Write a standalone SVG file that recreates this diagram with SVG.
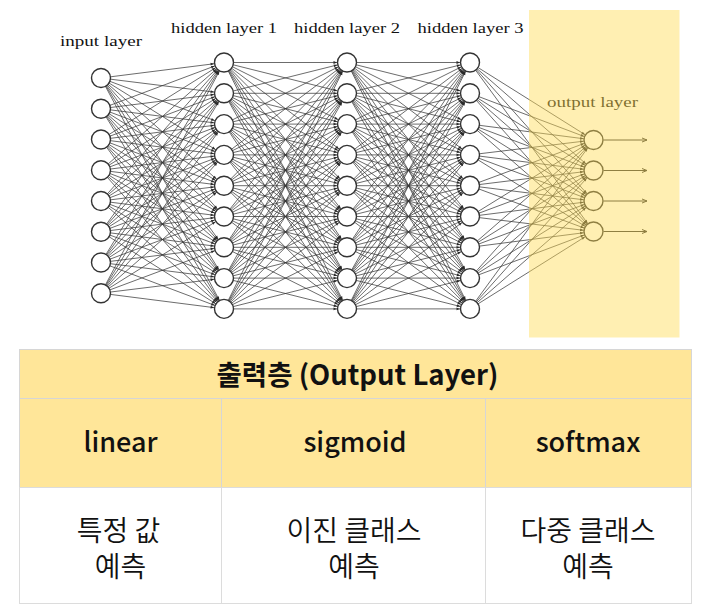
<svg xmlns="http://www.w3.org/2000/svg" width="709" height="615" viewBox="0 0 709 615">
<style>
.c{stroke:#333;stroke-opacity:.72;stroke-width:1;fill:none;marker-end:url(#ah)}
.o{stroke:#333;stroke-width:1;fill:none;marker-end:url(#ah2)}
.n{fill:#fff;stroke:#333;stroke-width:1.4}
.lbl{font-family:"Liberation Serif","DejaVu Serif",serif;font-size:14.5px;fill:#111}
.th{font-family:"Noto Sans CJK KR","Noto Sans",sans-serif;fill:#111;text-anchor:middle}
.cell{fill:#ffe699;stroke:#d6d6d6;stroke-width:1}
.wcell{fill:#fff;stroke:#dcdcdc;stroke-width:1}
</style>
<defs>
<marker id="ah" markerUnits="userSpaceOnUse" viewBox="0 0 20 6" markerWidth="20" markerHeight="6" refX="20" refY="3" orient="auto"><path d="M6.5,1.6L10,3L6.5,4.4Z" fill="#2a2a2a"/></marker>
<marker id="ah2" markerUnits="userSpaceOnUse" viewBox="0 0 8 6" markerWidth="8" markerHeight="6" refX="7" refY="3" orient="auto"><path d="M2,1L7,3L2,5" fill="none" stroke="#333" stroke-width="1"/></marker>
</defs>
<rect width="709" height="615" fill="#fff"/>
<g id="connectors">
<path class="c" d="M101 78L224 62.5"/><path class="c" d="M101 78L224 93.3"/><path class="c" d="M101 78L224 124.1"/><path class="c" d="M101 78L224 154.9"/><path class="c" d="M101 78L224 185.7"/><path class="c" d="M101 78L224 216.5"/><path class="c" d="M101 78L224 247.3"/><path class="c" d="M101 78L224 278.1"/><path class="c" d="M101 78L224 308.9"/>
<path class="c" d="M101 108.7L224 62.5"/><path class="c" d="M101 108.7L224 93.3"/><path class="c" d="M101 108.7L224 124.1"/><path class="c" d="M101 108.7L224 154.9"/><path class="c" d="M101 108.7L224 185.7"/><path class="c" d="M101 108.7L224 216.5"/><path class="c" d="M101 108.7L224 247.3"/><path class="c" d="M101 108.7L224 278.1"/><path class="c" d="M101 108.7L224 308.9"/>
<path class="c" d="M101 139.5L224 62.5"/><path class="c" d="M101 139.5L224 93.3"/><path class="c" d="M101 139.5L224 124.1"/><path class="c" d="M101 139.5L224 154.9"/><path class="c" d="M101 139.5L224 185.7"/><path class="c" d="M101 139.5L224 216.5"/><path class="c" d="M101 139.5L224 247.3"/><path class="c" d="M101 139.5L224 278.1"/><path class="c" d="M101 139.5L224 308.9"/>
<path class="c" d="M101 170.2L224 62.5"/><path class="c" d="M101 170.2L224 93.3"/><path class="c" d="M101 170.2L224 124.1"/><path class="c" d="M101 170.2L224 154.9"/><path class="c" d="M101 170.2L224 185.7"/><path class="c" d="M101 170.2L224 216.5"/><path class="c" d="M101 170.2L224 247.3"/><path class="c" d="M101 170.2L224 278.1"/><path class="c" d="M101 170.2L224 308.9"/>
<path class="c" d="M101 201L224 62.5"/><path class="c" d="M101 201L224 93.3"/><path class="c" d="M101 201L224 124.1"/><path class="c" d="M101 201L224 154.9"/><path class="c" d="M101 201L224 185.7"/><path class="c" d="M101 201L224 216.5"/><path class="c" d="M101 201L224 247.3"/><path class="c" d="M101 201L224 278.1"/><path class="c" d="M101 201L224 308.9"/>
<path class="c" d="M101 231.7L224 62.5"/><path class="c" d="M101 231.7L224 93.3"/><path class="c" d="M101 231.7L224 124.1"/><path class="c" d="M101 231.7L224 154.9"/><path class="c" d="M101 231.7L224 185.7"/><path class="c" d="M101 231.7L224 216.5"/><path class="c" d="M101 231.7L224 247.3"/><path class="c" d="M101 231.7L224 278.1"/><path class="c" d="M101 231.7L224 308.9"/>
<path class="c" d="M101 262.5L224 62.5"/><path class="c" d="M101 262.5L224 93.3"/><path class="c" d="M101 262.5L224 124.1"/><path class="c" d="M101 262.5L224 154.9"/><path class="c" d="M101 262.5L224 185.7"/><path class="c" d="M101 262.5L224 216.5"/><path class="c" d="M101 262.5L224 247.3"/><path class="c" d="M101 262.5L224 278.1"/><path class="c" d="M101 262.5L224 308.9"/>
<path class="c" d="M101 293.2L224 62.5"/><path class="c" d="M101 293.2L224 93.3"/><path class="c" d="M101 293.2L224 124.1"/><path class="c" d="M101 293.2L224 154.9"/><path class="c" d="M101 293.2L224 185.7"/><path class="c" d="M101 293.2L224 216.5"/><path class="c" d="M101 293.2L224 247.3"/><path class="c" d="M101 293.2L224 278.1"/><path class="c" d="M101 293.2L224 308.9"/>

<path class="c" d="M224 62.5L347 62.5"/><path class="c" d="M224 62.5L347 93.3"/><path class="c" d="M224 62.5L347 124.1"/><path class="c" d="M224 62.5L347 154.9"/><path class="c" d="M224 62.5L347 185.7"/><path class="c" d="M224 62.5L347 216.5"/><path class="c" d="M224 62.5L347 247.3"/><path class="c" d="M224 62.5L347 278.1"/><path class="c" d="M224 62.5L347 308.9"/>
<path class="c" d="M224 93.3L347 62.5"/><path class="c" d="M224 93.3L347 93.3"/><path class="c" d="M224 93.3L347 124.1"/><path class="c" d="M224 93.3L347 154.9"/><path class="c" d="M224 93.3L347 185.7"/><path class="c" d="M224 93.3L347 216.5"/><path class="c" d="M224 93.3L347 247.3"/><path class="c" d="M224 93.3L347 278.1"/><path class="c" d="M224 93.3L347 308.9"/>
<path class="c" d="M224 124.1L347 62.5"/><path class="c" d="M224 124.1L347 93.3"/><path class="c" d="M224 124.1L347 124.1"/><path class="c" d="M224 124.1L347 154.9"/><path class="c" d="M224 124.1L347 185.7"/><path class="c" d="M224 124.1L347 216.5"/><path class="c" d="M224 124.1L347 247.3"/><path class="c" d="M224 124.1L347 278.1"/><path class="c" d="M224 124.1L347 308.9"/>
<path class="c" d="M224 154.9L347 62.5"/><path class="c" d="M224 154.9L347 93.3"/><path class="c" d="M224 154.9L347 124.1"/><path class="c" d="M224 154.9L347 154.9"/><path class="c" d="M224 154.9L347 185.7"/><path class="c" d="M224 154.9L347 216.5"/><path class="c" d="M224 154.9L347 247.3"/><path class="c" d="M224 154.9L347 278.1"/><path class="c" d="M224 154.9L347 308.9"/>
<path class="c" d="M224 185.7L347 62.5"/><path class="c" d="M224 185.7L347 93.3"/><path class="c" d="M224 185.7L347 124.1"/><path class="c" d="M224 185.7L347 154.9"/><path class="c" d="M224 185.7L347 185.7"/><path class="c" d="M224 185.7L347 216.5"/><path class="c" d="M224 185.7L347 247.3"/><path class="c" d="M224 185.7L347 278.1"/><path class="c" d="M224 185.7L347 308.9"/>
<path class="c" d="M224 216.5L347 62.5"/><path class="c" d="M224 216.5L347 93.3"/><path class="c" d="M224 216.5L347 124.1"/><path class="c" d="M224 216.5L347 154.9"/><path class="c" d="M224 216.5L347 185.7"/><path class="c" d="M224 216.5L347 216.5"/><path class="c" d="M224 216.5L347 247.3"/><path class="c" d="M224 216.5L347 278.1"/><path class="c" d="M224 216.5L347 308.9"/>
<path class="c" d="M224 247.3L347 62.5"/><path class="c" d="M224 247.3L347 93.3"/><path class="c" d="M224 247.3L347 124.1"/><path class="c" d="M224 247.3L347 154.9"/><path class="c" d="M224 247.3L347 185.7"/><path class="c" d="M224 247.3L347 216.5"/><path class="c" d="M224 247.3L347 247.3"/><path class="c" d="M224 247.3L347 278.1"/><path class="c" d="M224 247.3L347 308.9"/>
<path class="c" d="M224 278.1L347 62.5"/><path class="c" d="M224 278.1L347 93.3"/><path class="c" d="M224 278.1L347 124.1"/><path class="c" d="M224 278.1L347 154.9"/><path class="c" d="M224 278.1L347 185.7"/><path class="c" d="M224 278.1L347 216.5"/><path class="c" d="M224 278.1L347 247.3"/><path class="c" d="M224 278.1L347 278.1"/><path class="c" d="M224 278.1L347 308.9"/>
<path class="c" d="M224 308.9L347 62.5"/><path class="c" d="M224 308.9L347 93.3"/><path class="c" d="M224 308.9L347 124.1"/><path class="c" d="M224 308.9L347 154.9"/><path class="c" d="M224 308.9L347 185.7"/><path class="c" d="M224 308.9L347 216.5"/><path class="c" d="M224 308.9L347 247.3"/><path class="c" d="M224 308.9L347 278.1"/><path class="c" d="M224 308.9L347 308.9"/>

<path class="c" d="M347 62.5L470 62.5"/><path class="c" d="M347 62.5L470 93.3"/><path class="c" d="M347 62.5L470 124.1"/><path class="c" d="M347 62.5L470 154.9"/><path class="c" d="M347 62.5L470 185.7"/><path class="c" d="M347 62.5L470 216.5"/><path class="c" d="M347 62.5L470 247.3"/><path class="c" d="M347 62.5L470 278.1"/><path class="c" d="M347 62.5L470 308.9"/>
<path class="c" d="M347 93.3L470 62.5"/><path class="c" d="M347 93.3L470 93.3"/><path class="c" d="M347 93.3L470 124.1"/><path class="c" d="M347 93.3L470 154.9"/><path class="c" d="M347 93.3L470 185.7"/><path class="c" d="M347 93.3L470 216.5"/><path class="c" d="M347 93.3L470 247.3"/><path class="c" d="M347 93.3L470 278.1"/><path class="c" d="M347 93.3L470 308.9"/>
<path class="c" d="M347 124.1L470 62.5"/><path class="c" d="M347 124.1L470 93.3"/><path class="c" d="M347 124.1L470 124.1"/><path class="c" d="M347 124.1L470 154.9"/><path class="c" d="M347 124.1L470 185.7"/><path class="c" d="M347 124.1L470 216.5"/><path class="c" d="M347 124.1L470 247.3"/><path class="c" d="M347 124.1L470 278.1"/><path class="c" d="M347 124.1L470 308.9"/>
<path class="c" d="M347 154.9L470 62.5"/><path class="c" d="M347 154.9L470 93.3"/><path class="c" d="M347 154.9L470 124.1"/><path class="c" d="M347 154.9L470 154.9"/><path class="c" d="M347 154.9L470 185.7"/><path class="c" d="M347 154.9L470 216.5"/><path class="c" d="M347 154.9L470 247.3"/><path class="c" d="M347 154.9L470 278.1"/><path class="c" d="M347 154.9L470 308.9"/>
<path class="c" d="M347 185.7L470 62.5"/><path class="c" d="M347 185.7L470 93.3"/><path class="c" d="M347 185.7L470 124.1"/><path class="c" d="M347 185.7L470 154.9"/><path class="c" d="M347 185.7L470 185.7"/><path class="c" d="M347 185.7L470 216.5"/><path class="c" d="M347 185.7L470 247.3"/><path class="c" d="M347 185.7L470 278.1"/><path class="c" d="M347 185.7L470 308.9"/>
<path class="c" d="M347 216.5L470 62.5"/><path class="c" d="M347 216.5L470 93.3"/><path class="c" d="M347 216.5L470 124.1"/><path class="c" d="M347 216.5L470 154.9"/><path class="c" d="M347 216.5L470 185.7"/><path class="c" d="M347 216.5L470 216.5"/><path class="c" d="M347 216.5L470 247.3"/><path class="c" d="M347 216.5L470 278.1"/><path class="c" d="M347 216.5L470 308.9"/>
<path class="c" d="M347 247.3L470 62.5"/><path class="c" d="M347 247.3L470 93.3"/><path class="c" d="M347 247.3L470 124.1"/><path class="c" d="M347 247.3L470 154.9"/><path class="c" d="M347 247.3L470 185.7"/><path class="c" d="M347 247.3L470 216.5"/><path class="c" d="M347 247.3L470 247.3"/><path class="c" d="M347 247.3L470 278.1"/><path class="c" d="M347 247.3L470 308.9"/>
<path class="c" d="M347 278.1L470 62.5"/><path class="c" d="M347 278.1L470 93.3"/><path class="c" d="M347 278.1L470 124.1"/><path class="c" d="M347 278.1L470 154.9"/><path class="c" d="M347 278.1L470 185.7"/><path class="c" d="M347 278.1L470 216.5"/><path class="c" d="M347 278.1L470 247.3"/><path class="c" d="M347 278.1L470 278.1"/><path class="c" d="M347 278.1L470 308.9"/>
<path class="c" d="M347 308.9L470 62.5"/><path class="c" d="M347 308.9L470 93.3"/><path class="c" d="M347 308.9L470 124.1"/><path class="c" d="M347 308.9L470 154.9"/><path class="c" d="M347 308.9L470 185.7"/><path class="c" d="M347 308.9L470 216.5"/><path class="c" d="M347 308.9L470 247.3"/><path class="c" d="M347 308.9L470 278.1"/><path class="c" d="M347 308.9L470 308.9"/>

<path class="c" d="M470 62.5L593.5 140"/><path class="c" d="M470 62.5L593.5 170.5"/><path class="c" d="M470 62.5L593.5 201"/><path class="c" d="M470 62.5L593.5 231.5"/>
<path class="c" d="M470 93.3L593.5 140"/><path class="c" d="M470 93.3L593.5 170.5"/><path class="c" d="M470 93.3L593.5 201"/><path class="c" d="M470 93.3L593.5 231.5"/>
<path class="c" d="M470 124.1L593.5 140"/><path class="c" d="M470 124.1L593.5 170.5"/><path class="c" d="M470 124.1L593.5 201"/><path class="c" d="M470 124.1L593.5 231.5"/>
<path class="c" d="M470 154.9L593.5 140"/><path class="c" d="M470 154.9L593.5 170.5"/><path class="c" d="M470 154.9L593.5 201"/><path class="c" d="M470 154.9L593.5 231.5"/>
<path class="c" d="M470 185.7L593.5 140"/><path class="c" d="M470 185.7L593.5 170.5"/><path class="c" d="M470 185.7L593.5 201"/><path class="c" d="M470 185.7L593.5 231.5"/>
<path class="c" d="M470 216.5L593.5 140"/><path class="c" d="M470 216.5L593.5 170.5"/><path class="c" d="M470 216.5L593.5 201"/><path class="c" d="M470 216.5L593.5 231.5"/>
<path class="c" d="M470 247.3L593.5 140"/><path class="c" d="M470 247.3L593.5 170.5"/><path class="c" d="M470 247.3L593.5 201"/><path class="c" d="M470 247.3L593.5 231.5"/>
<path class="c" d="M470 278.1L593.5 140"/><path class="c" d="M470 278.1L593.5 170.5"/><path class="c" d="M470 278.1L593.5 201"/><path class="c" d="M470 278.1L593.5 231.5"/>
<path class="c" d="M470 308.9L593.5 140"/><path class="c" d="M470 308.9L593.5 170.5"/><path class="c" d="M470 308.9L593.5 201"/><path class="c" d="M470 308.9L593.5 231.5"/>

<path class="o" d="M603.5 140H647"/><path class="o" d="M603.5 170.5H647"/><path class="o" d="M603.5 201H647"/><path class="o" d="M603.5 231.5H647"/>
</g>
<g id="input-layer">
<text class="lbl" x="60" y="46" textLength="82" lengthAdjust="spacingAndGlyphs">input layer</text>
<circle class="n" cx="101" cy="78" r="9.5"/><circle class="n" cx="101" cy="108.7" r="9.5"/><circle class="n" cx="101" cy="139.5" r="9.5"/><circle class="n" cx="101" cy="170.2" r="9.5"/><circle class="n" cx="101" cy="201" r="9.5"/><circle class="n" cx="101" cy="231.7" r="9.5"/><circle class="n" cx="101" cy="262.5" r="9.5"/><circle class="n" cx="101" cy="293.2" r="9.5"/>
</g>
<g id="hidden-layer-1">
<text class="lbl" x="171" y="32.5" textLength="106" lengthAdjust="spacingAndGlyphs">hidden layer 1</text>
<circle class="n" cx="224" cy="62.5" r="9.5"/><circle class="n" cx="224" cy="93.3" r="9.5"/><circle class="n" cx="224" cy="124.1" r="9.5"/><circle class="n" cx="224" cy="154.9" r="9.5"/><circle class="n" cx="224" cy="185.7" r="9.5"/><circle class="n" cx="224" cy="216.5" r="9.5"/><circle class="n" cx="224" cy="247.3" r="9.5"/><circle class="n" cx="224" cy="278.1" r="9.5"/><circle class="n" cx="224" cy="308.9" r="9.5"/>
</g>
<g id="hidden-layer-2">
<text class="lbl" x="294" y="32.5" textLength="106" lengthAdjust="spacingAndGlyphs">hidden layer 2</text>
<circle class="n" cx="347" cy="62.5" r="9.5"/><circle class="n" cx="347" cy="93.3" r="9.5"/><circle class="n" cx="347" cy="124.1" r="9.5"/><circle class="n" cx="347" cy="154.9" r="9.5"/><circle class="n" cx="347" cy="185.7" r="9.5"/><circle class="n" cx="347" cy="216.5" r="9.5"/><circle class="n" cx="347" cy="247.3" r="9.5"/><circle class="n" cx="347" cy="278.1" r="9.5"/><circle class="n" cx="347" cy="308.9" r="9.5"/>
</g>
<g id="hidden-layer-3">
<text class="lbl" x="417.5" y="32.5" textLength="106" lengthAdjust="spacingAndGlyphs">hidden layer 3</text>
<circle class="n" cx="470" cy="62.5" r="9.5"/><circle class="n" cx="470" cy="93.3" r="9.5"/><circle class="n" cx="470" cy="124.1" r="9.5"/><circle class="n" cx="470" cy="154.9" r="9.5"/><circle class="n" cx="470" cy="185.7" r="9.5"/><circle class="n" cx="470" cy="216.5" r="9.5"/><circle class="n" cx="470" cy="247.3" r="9.5"/><circle class="n" cx="470" cy="278.1" r="9.5"/><circle class="n" cx="470" cy="308.9" r="9.5"/>
</g>
<g id="output-layer">
<text class="lbl" x="547" y="107" textLength="91" lengthAdjust="spacingAndGlyphs">output layer</text>
<circle class="n" cx="593.5" cy="140" r="9.5"/><circle class="n" cx="593.5" cy="170.5" r="9.5"/><circle class="n" cx="593.5" cy="201" r="9.5"/><circle class="n" cx="593.5" cy="231.5" r="9.5"/>
</g>
<rect id="output-highlight" x="529" y="10" width="150.5" height="327.5" fill="#ffdc55" fill-opacity="0.45"/>
<g id="table">
<rect class="cell" x="19.5" y="349.5" width="672" height="49"/>
<rect class="cell" x="19.5" y="398.5" width="202" height="89"/>
<rect class="cell" x="221.5" y="398.5" width="264" height="89"/>
<rect class="cell" x="485.5" y="398.5" width="206" height="89"/>
<rect class="wcell" x="19.5" y="487.5" width="202" height="116"/>
<rect class="wcell" x="221.5" y="487.5" width="264" height="116"/>
<rect class="wcell" x="485.5" y="487.5" width="206" height="116"/>
<text class="th" x="357.5" y="385" font-size="27.5" font-weight="700">출력층 (Output Layer)</text>
<text class="th" x="120.5" y="452" font-size="27" font-weight="500">linear</text>
<text class="th" x="355" y="452" font-size="27" font-weight="500">sigmoid</text>
<text class="th" x="588" y="452" font-size="27" font-weight="500">softmax</text>
<text class="th" x="118.5" y="541" font-size="28" font-weight="350" fill="#222">특정 값</text>
<text class="th" x="120.5" y="577" font-size="28" font-weight="350" fill="#222">예측</text>
<text class="th" x="354" y="541" font-size="28" font-weight="350" fill="#222">이진 클래스</text>
<text class="th" x="354" y="577" font-size="28" font-weight="350" fill="#222">예측</text>
<text class="th" x="588" y="541" font-size="28" font-weight="350" fill="#222">다중 클래스</text>
<text class="th" x="588" y="577" font-size="28" font-weight="350" fill="#222">예측</text>
</g>
</svg>
